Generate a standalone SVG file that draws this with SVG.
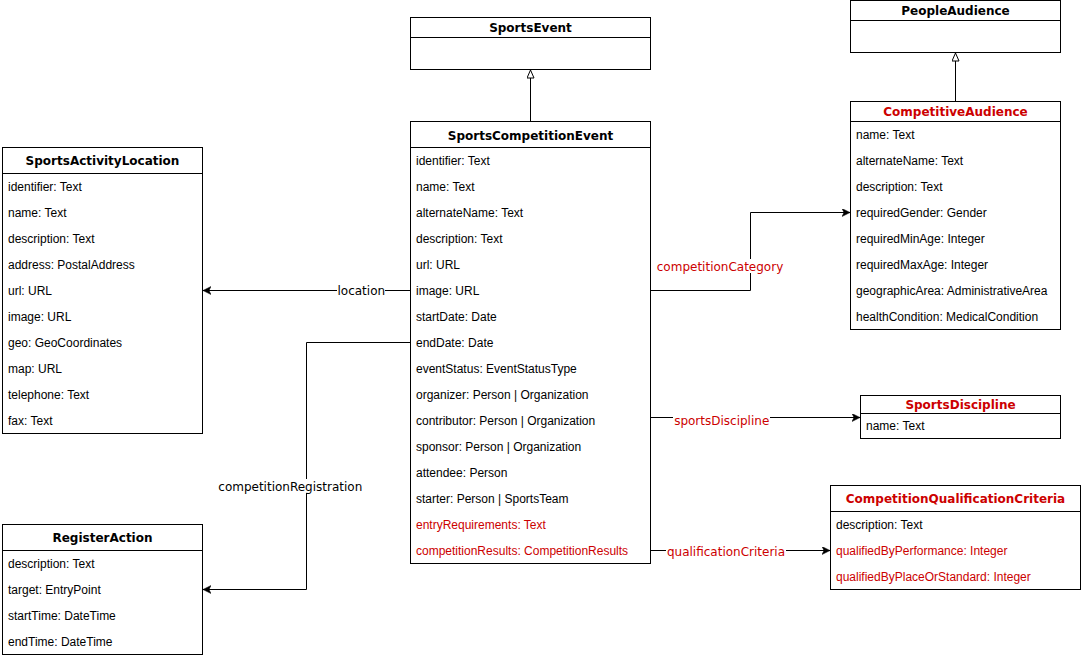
<svg xmlns="http://www.w3.org/2000/svg" width="1081" height="658" viewBox="0 0 1081 658">
<style>
.box{fill:#fff;stroke:#000;stroke-width:1}
.sep{stroke:#000;stroke-width:1}
.t{font-family:"DejaVu Sans",Verdana,sans-serif;font-weight:bold;font-size:12px;text-anchor:middle;fill:#000}
.a{font-family:"Liberation Sans",Arial,sans-serif;font-size:12px;fill:#000}
.edge{fill:none;stroke:#000;stroke-width:1}
.lbl{font-family:"DejaVu Sans",Verdana,sans-serif;font-size:12px;text-anchor:middle;fill:#000}
.lbg{fill:#fff;stroke:none}
.red{fill:#CC0000}
</style>
<defs>
<marker id="arr" markerUnits="userSpaceOnUse" markerWidth="12" markerHeight="12" refX="8" refY="4" orient="auto">
<path d="M0,0 L8,4 L0,8 L2,4 Z" fill="#000" stroke="#000" stroke-width="0.5"/>
</marker>
<marker id="tri" markerUnits="userSpaceOnUse" markerWidth="12" markerHeight="12" refX="8.5" refY="4" orient="auto">
<path d="M0.5,0.5 L8.5,4 L0.5,7.5 Z" fill="#fff" stroke="#000" stroke-width="1"/>
</marker>
</defs>

<g id="connectors">
<path class="edge" d="M530.5,121.5 V70" marker-end="url(#tri)"/>
<path class="edge" d="M955.5,101.5 V53" marker-end="url(#tri)"/>
<path class="edge" d="M410,290.5 H203" marker-end="url(#arr)"/>
<path class="edge" d="M410,342.5 H306.5 V589.5 H203" marker-end="url(#arr)"/>
<path class="edge" d="M651,290.5 H750.5 V212.5 H850" marker-end="url(#arr)"/>
<path class="edge" d="M651,417.5 H860" marker-end="url(#arr)"/>
<path class="edge" d="M651,550.5 H830" marker-end="url(#arr)"/>
<rect class="lbg" x="337" y="284" width="48" height="13"/>
<text class="lbl" x="361.3" y="295">location</text>
<rect class="lbg" x="218" y="479" width="145" height="14"/>
<text class="lbl" x="290.3" y="490.5">competitionRegistration</text>
<rect class="lbg" x="657" y="259" width="126" height="14"/>
<text class="lbl red" x="720" y="270.5">competitionCategory</text>
<rect class="lbg" x="673" y="412" width="97" height="16"/>
<text class="lbl red" x="721.7" y="425">sportsDiscipline</text>
<rect class="lbg" x="666" y="544" width="120" height="14"/>
<text class="lbl red" x="726" y="555.5">qualificationCriteria</text>
</g>

<g id="SportsEvent">
<rect class="box" x="410.5" y="17.5" width="240" height="52"/>
<line class="sep" x1="410.5" y1="37.5" x2="650.5" y2="37.5"/>
<text class="t" x="530.5" y="32">SportsEvent</text>
</g>

<g id="PeopleAudience">
<rect class="box" x="850.5" y="0.5" width="210" height="52"/>
<line class="sep" x1="850.5" y1="20.5" x2="1060.5" y2="20.5"/>
<text class="t" x="955.5" y="15">PeopleAudience</text>
</g>

<g id="CompetitiveAudience">
<rect class="box" x="850.5" y="101.5" width="210" height="228"/>
<line class="sep" x1="850.5" y1="121.5" x2="1060.5" y2="121.5"/>
<text class="t red" x="955.5" y="116">CompetitiveAudience</text>
<text class="a" x="856" y="138.5">name: Text</text>
<text class="a" x="856" y="164.5">alternateName: Text</text>
<text class="a" x="856" y="190.5">description: Text</text>
<text class="a" x="856" y="216.5">requiredGender: Gender</text>
<text class="a" x="856" y="242.5">requiredMinAge: Integer</text>
<text class="a" x="856" y="268.5">requiredMaxAge: Integer</text>
<text class="a" x="856" y="294.5">geographicArea: AdministrativeArea</text>
<text class="a" x="856" y="320.5">healthCondition: MedicalCondition</text>
</g>

<g id="SportsCompetitionEvent">
<rect class="box" x="410.5" y="121.5" width="240" height="442"/>
<line class="sep" x1="410.5" y1="147.5" x2="650.5" y2="147.5"/>
<text class="t" x="530.5" y="139.5">SportsCompetitionEvent</text>
<text class="a" x="416" y="164.5">identifier: Text</text>
<text class="a" x="416" y="190.5">name: Text</text>
<text class="a" x="416" y="216.5">alternateName: Text</text>
<text class="a" x="416" y="242.5">description: Text</text>
<text class="a" x="416" y="268.5">url: URL</text>
<text class="a" x="416" y="294.5">image: URL</text>
<text class="a" x="416" y="320.5">startDate: Date</text>
<text class="a" x="416" y="346.5">endDate: Date</text>
<text class="a" x="416" y="372.5">eventStatus: EventStatusType</text>
<text class="a" x="416" y="398.5">organizer: Person | Organization</text>
<text class="a" x="416" y="424.5">contributor: Person | Organization</text>
<text class="a" x="416" y="450.5">sponsor: Person | Organization</text>
<text class="a" x="416" y="476.5">attendee: Person</text>
<text class="a" x="416" y="502.5">starter: Person | SportsTeam</text>
<text class="a red" x="416" y="528.5">entryRequirements: Text</text>
<text class="a red" x="416" y="554.5">competitionResults: CompetitionResults</text>
</g>

<g id="SportsActivityLocation">
<rect class="box" x="2.5" y="147.5" width="200" height="286"/>
<line class="sep" x1="2.5" y1="173.5" x2="202.5" y2="173.5"/>
<text class="t" x="102.5" y="165">SportsActivityLocation</text>
<text class="a" x="8" y="190.5">identifier: Text</text>
<text class="a" x="8" y="216.5">name: Text</text>
<text class="a" x="8" y="242.5">description: Text</text>
<text class="a" x="8" y="268.5">address: PostalAddress</text>
<text class="a" x="8" y="294.5">url: URL</text>
<text class="a" x="8" y="320.5">image: URL</text>
<text class="a" x="8" y="346.5">geo: GeoCoordinates</text>
<text class="a" x="8" y="372.5">map: URL</text>
<text class="a" x="8" y="398.5">telephone: Text</text>
<text class="a" x="8" y="424.5">fax: Text</text>
</g>

<g id="RegisterAction">
<rect class="box" x="2.5" y="524.5" width="200" height="130"/>
<line class="sep" x1="2.5" y1="550.5" x2="202.5" y2="550.5"/>
<text class="t" x="102.5" y="541.5">RegisterAction</text>
<text class="a" x="8" y="567.5">description: Text</text>
<text class="a" x="8" y="593.5">target: EntryPoint</text>
<text class="a" x="8" y="619.5">startTime: DateTime</text>
<text class="a" x="8" y="645.5">endTime: DateTime</text>
</g>

<g id="SportsDiscipline">
<rect class="box" x="860.5" y="395.5" width="200" height="43"/>
<line class="sep" x1="860.5" y1="413.5" x2="1060.5" y2="413.5"/>
<text class="t red" x="960.5" y="408.5">SportsDiscipline</text>
<text class="a" x="866" y="430">name: Text</text>
</g>

<g id="CompetitionQualificationCriteria">
<rect class="box" x="830.5" y="485.5" width="250" height="104"/>
<line class="sep" x1="830.5" y1="511.5" x2="1080.5" y2="511.5"/>
<text class="t red" x="955.5" y="502.5">CompetitionQualificationCriteria</text>
<text class="a" x="836" y="528.5">description: Text</text>
<text class="a red" x="836" y="554.5">qualifiedByPerformance: Integer</text>
<text class="a red" x="836" y="580.5">qualifiedByPlaceOrStandard: Integer</text>
</g>
</svg>
